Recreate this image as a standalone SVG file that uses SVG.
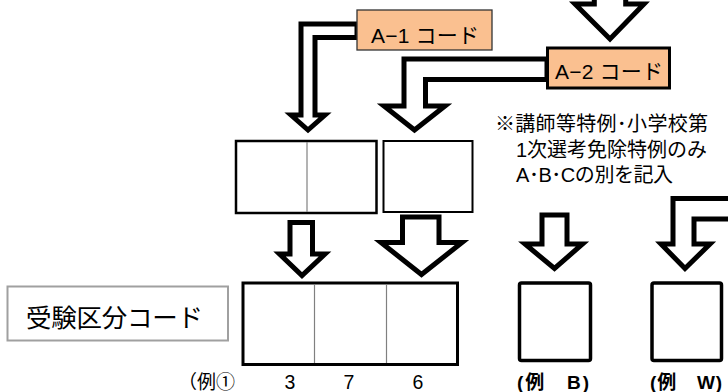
<svg xmlns="http://www.w3.org/2000/svg" width="728" height="392" viewBox="0 0 728 392">
<style>
.arr{fill:#fff;stroke:#000;stroke-width:5;stroke-linejoin:miter;stroke-miterlimit:10}
.t{font-family:"Liberation Sans","Noto Sans CJK JP",sans-serif;fill:#000}
.code{fill:#FAC090}
.cell{fill:#fff;stroke:#000}
.div{stroke:#808080;stroke-width:1.2}
</style>
<rect width="728" height="392" fill="#fff"/>
<g id="connectors">
<polygon class="arr" points="594.3,-10 594.3,4 575,4 610,39 644,4 625.7,4 625.7,-10"/>
<polygon class="arr" points="357,24 301,24 301,115 291,115 308,130 325,115 315,115 315,37.5 357,37.5"/>
<polygon class="arr" points="547,59 404,59 404,106 384,106 414.5,130 445,106 425.5,106 425.5,79.5 547,79.5"/>
<polygon class="arr" points="290,222.5 312.5,222.5 312.5,254 325,254 302,275.5 279.5,254 290,254"/>
<polygon class="arr" points="402.5,217 439,217 439,242.5 462,242.5 421.5,274.5 381,242.5 402.5,242.5"/>
<polygon class="arr" points="542,215 567,215 567,244 582.5,244 554.5,268.5 525,244 542,244"/>
<polygon class="arr" points="740,198.5 673,198.5 673,244 661,244 685,268.5 710,244 694,244 694,219 740,219"/>
</g>
<g id="a1-code">
<rect class="code" x="357" y="10" width="135" height="40" stroke="#333" stroke-width="1.3"/>
<text class="t" x="371" y="42.5" font-size="21" textLength="108">A−1 コード</text>
</g>
<g id="a2-code">
<rect class="code" x="547.5" y="48" width="122" height="40" stroke="#000" stroke-width="3"/>
<text class="t" x="555" y="78.5" font-size="21" textLength="108">A−2 コード</text>
</g>
<g id="note">
<text class="t" x="495" y="130.5" font-size="20" textLength="213">※講師等特例･小学校第</text>
<text class="t" x="516" y="156.5" font-size="20" textLength="191">1次選考免除特例のみ</text>
<text class="t" x="516" y="181.5" font-size="20" textLength="157">A･B･Cの別を記入</text>
</g>
<g id="a-cells">
<rect class="cell" x="236" y="141" width="140.5" height="72" stroke-width="2.5"/>
<line class="div" x1="307" y1="142" x2="307" y2="212"/>
</g>
<g id="b-cell">
<rect class="cell" x="383.5" y="141" width="89" height="71" stroke-width="2"/>
</g>
<g id="label">
<rect x="7.5" y="286.5" width="220.5" height="54" fill="#fff" stroke="#a0a0a0" stroke-width="2"/>
<text class="t" x="26" y="327" font-size="25.5" textLength="177">受験区分コード</text>
</g>
<g id="code-cells">
<rect class="cell" x="243" y="283" width="214.5" height="81.5" stroke-width="3"/>
<line class="div" x1="314.5" y1="284.5" x2="314.5" y2="363"/>
<line class="div" x1="386.5" y1="284.5" x2="386.5" y2="363"/>
<text class="t" x="178" y="389" font-size="19">（例①</text>
<text class="t" x="290" y="389" font-size="19.5" text-anchor="middle">3</text>
<text class="t" x="349" y="389" font-size="19.5" text-anchor="middle">7</text>
<text class="t" x="418" y="389" font-size="19.5" text-anchor="middle">6</text>
</g>
<g id="cell-b">
<rect class="cell" x="519.5" y="283" width="71" height="77.5" rx="2" stroke-width="3.5"/>
<text class="t" x="517" y="389" font-size="19" font-weight="bold" textLength="72">(例　B)</text>
</g>
<g id="cell-w">
<rect class="cell" x="652" y="283" width="69.5" height="77.5" rx="2" stroke-width="3.5"/>
<text class="t" x="650" y="389" font-size="19" font-weight="bold" textLength="72">(例　W)</text>
</g>
</svg>
